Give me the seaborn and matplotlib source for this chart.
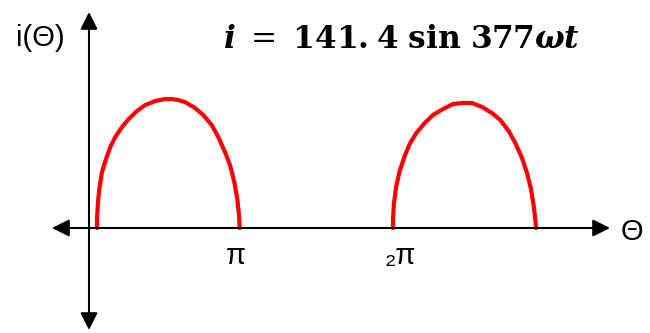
import matplotlib
matplotlib.use("Agg")
import matplotlib.pyplot as plt
import seaborn as sns
import pandas as pd

# Arc 1 (0 .. pi): x position, height above the axis
arc1_x = [97, 97, 98, 99.3, 102, 106, 110.3, 115.3, 122, 128.7, 137, 145.3, 155.3, 165.3, 172,
          178, 185, 195, 203.3, 211.7, 218.3, 225, 230, 234.3, 237.3, 239, 239.7]
arc1_y = [0, 9, 26, 39, 56, 69, 81, 91, 101, 109, 117, 123, 127, 129, 129,
          128, 126, 120, 113, 103, 91, 76, 63, 46, 29, 13, 0]
# Arc 2 (2pi .. 3pi)
arc2_x = [393, 393, 394, 396.3, 399.7, 404.7, 409.7, 416.3, 424.7, 433, 443, 453, 463, 468,
          472, 482, 492, 500.3, 508.7, 515.3, 522, 527, 531, 533.7, 535.3, 536]
arc2_y = [0, 9, 25, 42, 57, 72, 84, 95, 105, 113, 119, 124, 125, 125,
          125, 121, 115, 108, 97, 85, 70, 55, 39, 22, 9, 0]

tick_labels = ["π", "₂π"]
equation = r"$\mathbfit{i}\ =\ \mathbf{141.\!\:4\ sin\ 377}\mathbfit{\omega t}$"

sns.set_style("white")
plt.rcParams["font.family"] = ["Liberation Sans", "DejaVu Sans"]
plt.rcParams["text.color"] = "black"
plt.rcParams["mathtext.fontset"] = "custom"
plt.rcParams["mathtext.rm"] = "DejaVu Serif"
plt.rcParams["mathtext.bf"] = "DejaVu Serif:bold"
plt.rcParams["mathtext.bfit"] = "DejaVu Serif:bold:italic"
plt.rcParams["mathtext.it"] = "DejaVu Serif:italic"

fig = plt.figure(figsize=(6.5, 3.33), dpi=100)
ax = fig.add_axes([0, 0, 1, 1])
ax.set_xlim(0, 650)
ax.set_ylim(-105, 228)
ax.axis("off")

df1 = pd.DataFrame({"x": arc1_x, "y": arc1_y})
df2 = pd.DataFrame({"x": arc2_x, "y": arc2_y})
for d in (df1, df2):
    sns.lineplot(data=d, x="x", y="y", ax=ax, color="#ff0000", lw=3,
                 sort=False, estimator=None, solid_joinstyle="round")

arrow = dict(arrowstyle="<|-|>", mutation_scale=26, lw=1.5, color="black", shrinkA=0, shrinkB=0)
ax.annotate("", xy=(610, 0), xytext=(52, 0), arrowprops=arrow)
ax.annotate("", xy=(89, 216), xytext=(89, -102), arrowprops=arrow)

ax.text(40, 190, "i(Θ)", fontsize=21, ha="center", va="center", color="black")
ax.text(632, -4, "Θ", fontsize=21, ha="center", va="center", color="black")
ax.text(236, -28, tick_labels[0], fontsize=21, ha="center", va="center", color="black")
ax.text(400, -28, tick_labels[1], fontsize=21, ha="center", va="center", color="black")
ax.text(402, 188, equation, fontsize=22.5, ha="center", va="center", color="black")

fig.savefig("out.png", dpi=100)
